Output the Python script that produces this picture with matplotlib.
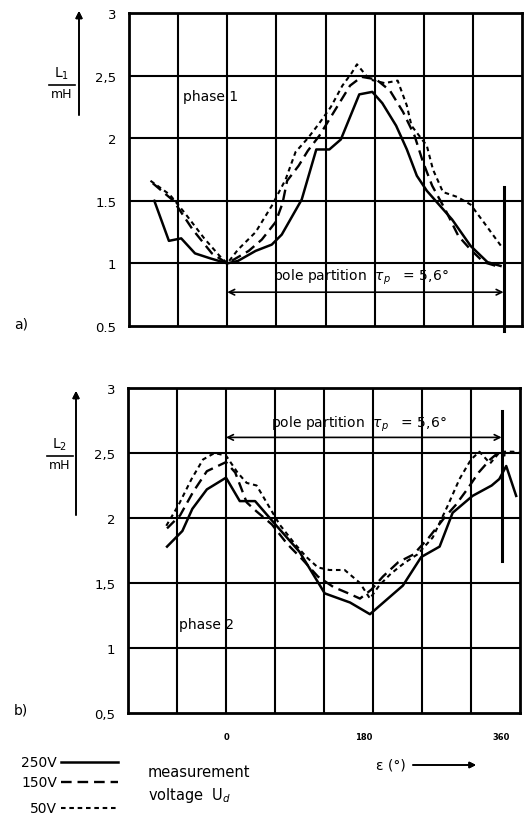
import matplotlib.pyplot as plt
from matplotlib.lines import Line2D

plt.rcParams['font.family'] = ['DejaVu Sans']

W, H = 526, 820

# phase 1, electrical angle eps (deg) vs L1 (mH)
a_250_x = [-95, -76, -60, -42, -22, 0, 14, 37, 58, 71, 97, 116, 133, 148, 172, 189, 202, 220, 234, 247, 260, 293, 317, 339, 356]
a_250_y = [1.50, 1.18, 1.20, 1.08, 1.04, 1.00, 1.02, 1.10, 1.15, 1.23, 1.51, 1.91, 1.91, 1.99, 2.35, 2.37, 2.28, 2.10, 1.91, 1.70, 1.58, 1.35, 1.14, 1.01, 0.98]
a_150_x = [-97, -70, -45, -20, 0, 14, 28, 45, 63, 72, 78, 93, 105, 120, 140, 160, 175, 194, 212, 229, 244, 255, 267, 284, 301, 317, 334, 350]
a_150_y = [1.64, 1.50, 1.27, 1.08, 1.00, 1.05, 1.10, 1.19, 1.33, 1.48, 1.66, 1.78, 1.90, 2.02, 2.22, 2.42, 2.49, 2.47, 2.38, 2.21, 2.02, 1.81, 1.62, 1.43, 1.22, 1.11, 1.01, 0.98]
a_50_x = [-100, -75, -55, -30, -10, 0, 14, 37, 58, 76, 89, 105, 120, 135, 150, 162, 169, 185, 205, 222, 234, 240, 260, 268, 281, 300, 317, 334, 359]
a_50_y = [1.66, 1.55, 1.40, 1.20, 1.06, 1.00, 1.11, 1.25, 1.46, 1.67, 1.89, 2.00, 2.12, 2.25, 2.42, 2.52, 2.59, 2.47, 2.44, 2.46, 2.26, 2.10, 1.94, 1.75, 1.57, 1.53, 1.47, 1.33, 1.12]

# phase 2, L2 (mH)
b_250_x = [-77, -57, -44, -25, 0, 18, 38, 66, 96, 129, 162, 188, 231, 255, 279, 296, 322, 347, 357, 366, 379]
b_250_y = [1.78, 1.90, 2.07, 2.22, 2.31, 2.13, 2.13, 1.94, 1.74, 1.42, 1.35, 1.26, 1.48, 1.70, 1.78, 2.04, 2.17, 2.25, 2.30, 2.40, 2.17]
b_150_x = [-77, -60, -43, -25, 0, 12, 27, 40, 60, 80, 100, 120, 140, 160, 175, 190, 205, 225, 245, 265, 285, 300, 315, 330, 345, 355, 365]
b_150_y = [1.92, 2.02, 2.20, 2.36, 2.43, 2.35, 2.12, 2.05, 1.95, 1.80, 1.68, 1.55, 1.47, 1.42, 1.38, 1.45, 1.55, 1.66, 1.72, 1.85, 2.00, 2.10, 2.22, 2.35, 2.45, 2.50, 2.48]
b_50_x = [-78, -62, -45, -30, -15, 0, 15, 27, 40, 55, 70, 90, 105, 120, 135, 155, 175, 188, 200, 215, 232, 250, 270, 290, 305, 320, 331, 345, 358, 375, 383]
b_50_y = [1.94, 2.10, 2.30, 2.45, 2.50, 2.48, 2.35, 2.27, 2.25, 2.10, 1.95, 1.80, 1.70, 1.62, 1.60, 1.60, 1.50, 1.38, 1.48, 1.57, 1.65, 1.72, 1.85, 2.10, 2.30, 2.45, 2.51, 2.42, 2.51, 2.51, 2.50]

yticks = [0.5, 1, 1.5, 2, 2.5, 3]
a_ylabels = ['0.5', '1', '1.5', '2', '2,5', '3']
b_ylabels = ['0,5', '1', '1,5', '2', '2,5', '3']
grid_x = [-64, 0, 64, 128, 192, 256, 320]
grid_y = [1, 1.5, 2, 2.5]
xticks = [0, 180, 360]
xlabels = ['0', '180', '360']
pole = [0, 360]

styles = {
    '250V': dict(color='k', lw=1.8, linestyle='-'),
    '150V': dict(color='k', lw=1.7, linestyle=(0, (4.5, 2.5))),
    '50V': dict(color='k', lw=1.5, linestyle=(0, (2.2, 1.8))),
}


def px(x, y):
    return (x / W, 1 - y / H)


fig = plt.figure(figsize=(W / 100, H / 100), dpi=100)
ax1 = fig.add_axes([129 / W, 1 - 327 / H, 393 / W, 313 / H])
ax2 = fig.add_axes([128 / W, 1 - 714 / H, 392 / W, 325 / H])

for ax, labs in [(ax1, a_ylabels), (ax2, b_ylabels)]:
    ax.set_xlim(-128, 384)
    ax.set_ylim(0.5, 3)
    for gx in grid_x:
        ax.axvline(gx, color='k', lw=1.5, zorder=1)
    for gy in grid_y:
        ax.axhline(gy, color='k', lw=1.5, zorder=1)
    for s in ax.spines.values():
        s.set_linewidth(2)
    ax.set_yticks(yticks, labs)
    ax.tick_params(axis='y', length=0, pad=9, labelsize=9.5)
    ax.tick_params(axis='x', length=0)

ax1.set_xticks([])
ax2.set_xticks(xticks, xlabels, fontsize=6, fontweight='bold')
ax2.tick_params(axis='x', pad=14)

ax1.plot(a_250_x, a_250_y, **styles['250V'], zorder=3)
ax1.plot(a_150_x, a_150_y, **styles['150V'], zorder=3)
ax1.plot(a_50_x, a_50_y, **styles['50V'], zorder=3)
ax2.plot(b_250_x, b_250_y, **styles['250V'], zorder=3)
ax2.plot(b_150_x, b_150_y, **styles['150V'], zorder=3)
ax2.plot(b_50_x, b_50_y, **styles['50V'], zorder=3)

ax1.text(-58, 2.34, 'phase 1', fontsize=10, va='center')
ax2.text(-62, 1.185, 'phase 2', fontsize=10, va='center')

# pole partition marks
for ax, ya, yt, ym in [(ax1, 0.77, 0.9, (0.46, 1.61)), (ax2, 2.62, 2.73, (1.67, 2.82))]:
    ax.annotate('', xy=(pole[1], ya), xytext=(pole[0], ya),
                arrowprops=dict(arrowstyle='<->', lw=1.2, color='k', shrinkA=0, shrinkB=0))
    ax.text(174, yt, 'pole partition  $\\tau_p$   = 5,6°', ha='center', va='center', fontsize=10)
    ax.plot([pole[1], pole[1]], list(ym), color='k', lw=2.2, clip_on=False, zorder=4)

# y-axis labels with arrows
for lab, xc, yl, ym, yline, xa, ya0, ya1 in [('L$_1$', 62, 74, 94, 86, 79, 116, 12),
                                              ('L$_2$', 60, 445, 466, 457, 76, 516, 392)]:
    fig.text(*px(xc, yl), lab, ha='center', va='center', fontsize=10)
    fig.text(*px(xc, ym), 'mH', ha='center', va='center', fontsize=9)
    fig.add_artist(Line2D([px(xc - 13, 0)[0], px(xc + 13, 0)[0]], [px(0, yline)[1]] * 2,
                          color='k', lw=1.2, transform=fig.transFigure))
    fig.add_artist(plt.annotate('', xy=px(xa, ya1), xytext=px(xa, ya0), xycoords='figure fraction',
                                arrowprops=dict(arrowstyle='-|>', lw=1.2, color='k', shrinkA=0, shrinkB=0,
                                                mutation_scale=10)))

fig.text(*px(14, 325), 'a)', fontsize=10, va='center')
fig.text(*px(14, 711), 'b)', fontsize=10, va='center')

# legend of measurement voltage
for name, yy, x0 in [('250V', 763, 57), ('150V', 783, 57), ('50V', 809, 57)]:
    fig.text(*px(x0, yy), name, ha='right', va='center', fontsize=10)
    fig.add_artist(Line2D([px(61, 0)[0], px(118, 0)[0]], [px(0, yy)[1]] * 2,
                          transform=fig.transFigure, **styles[name]))
fig.text(*px(148, 773), 'measurement', va='center', fontsize=10.5)
fig.text(*px(148, 796), 'voltage  U$_d$', va='center', fontsize=10.5)

fig.text(*px(376, 766), 'ε (°)', va='center', fontsize=10)
fig.add_artist(plt.annotate('', xy=px(476, 766), xytext=px(413, 766), xycoords='figure fraction',
                            arrowprops=dict(arrowstyle='-|>', lw=1.2, color='k', shrinkA=0, shrinkB=0,
                                            mutation_scale=9)))

fig.savefig('out.png', dpi=100)
